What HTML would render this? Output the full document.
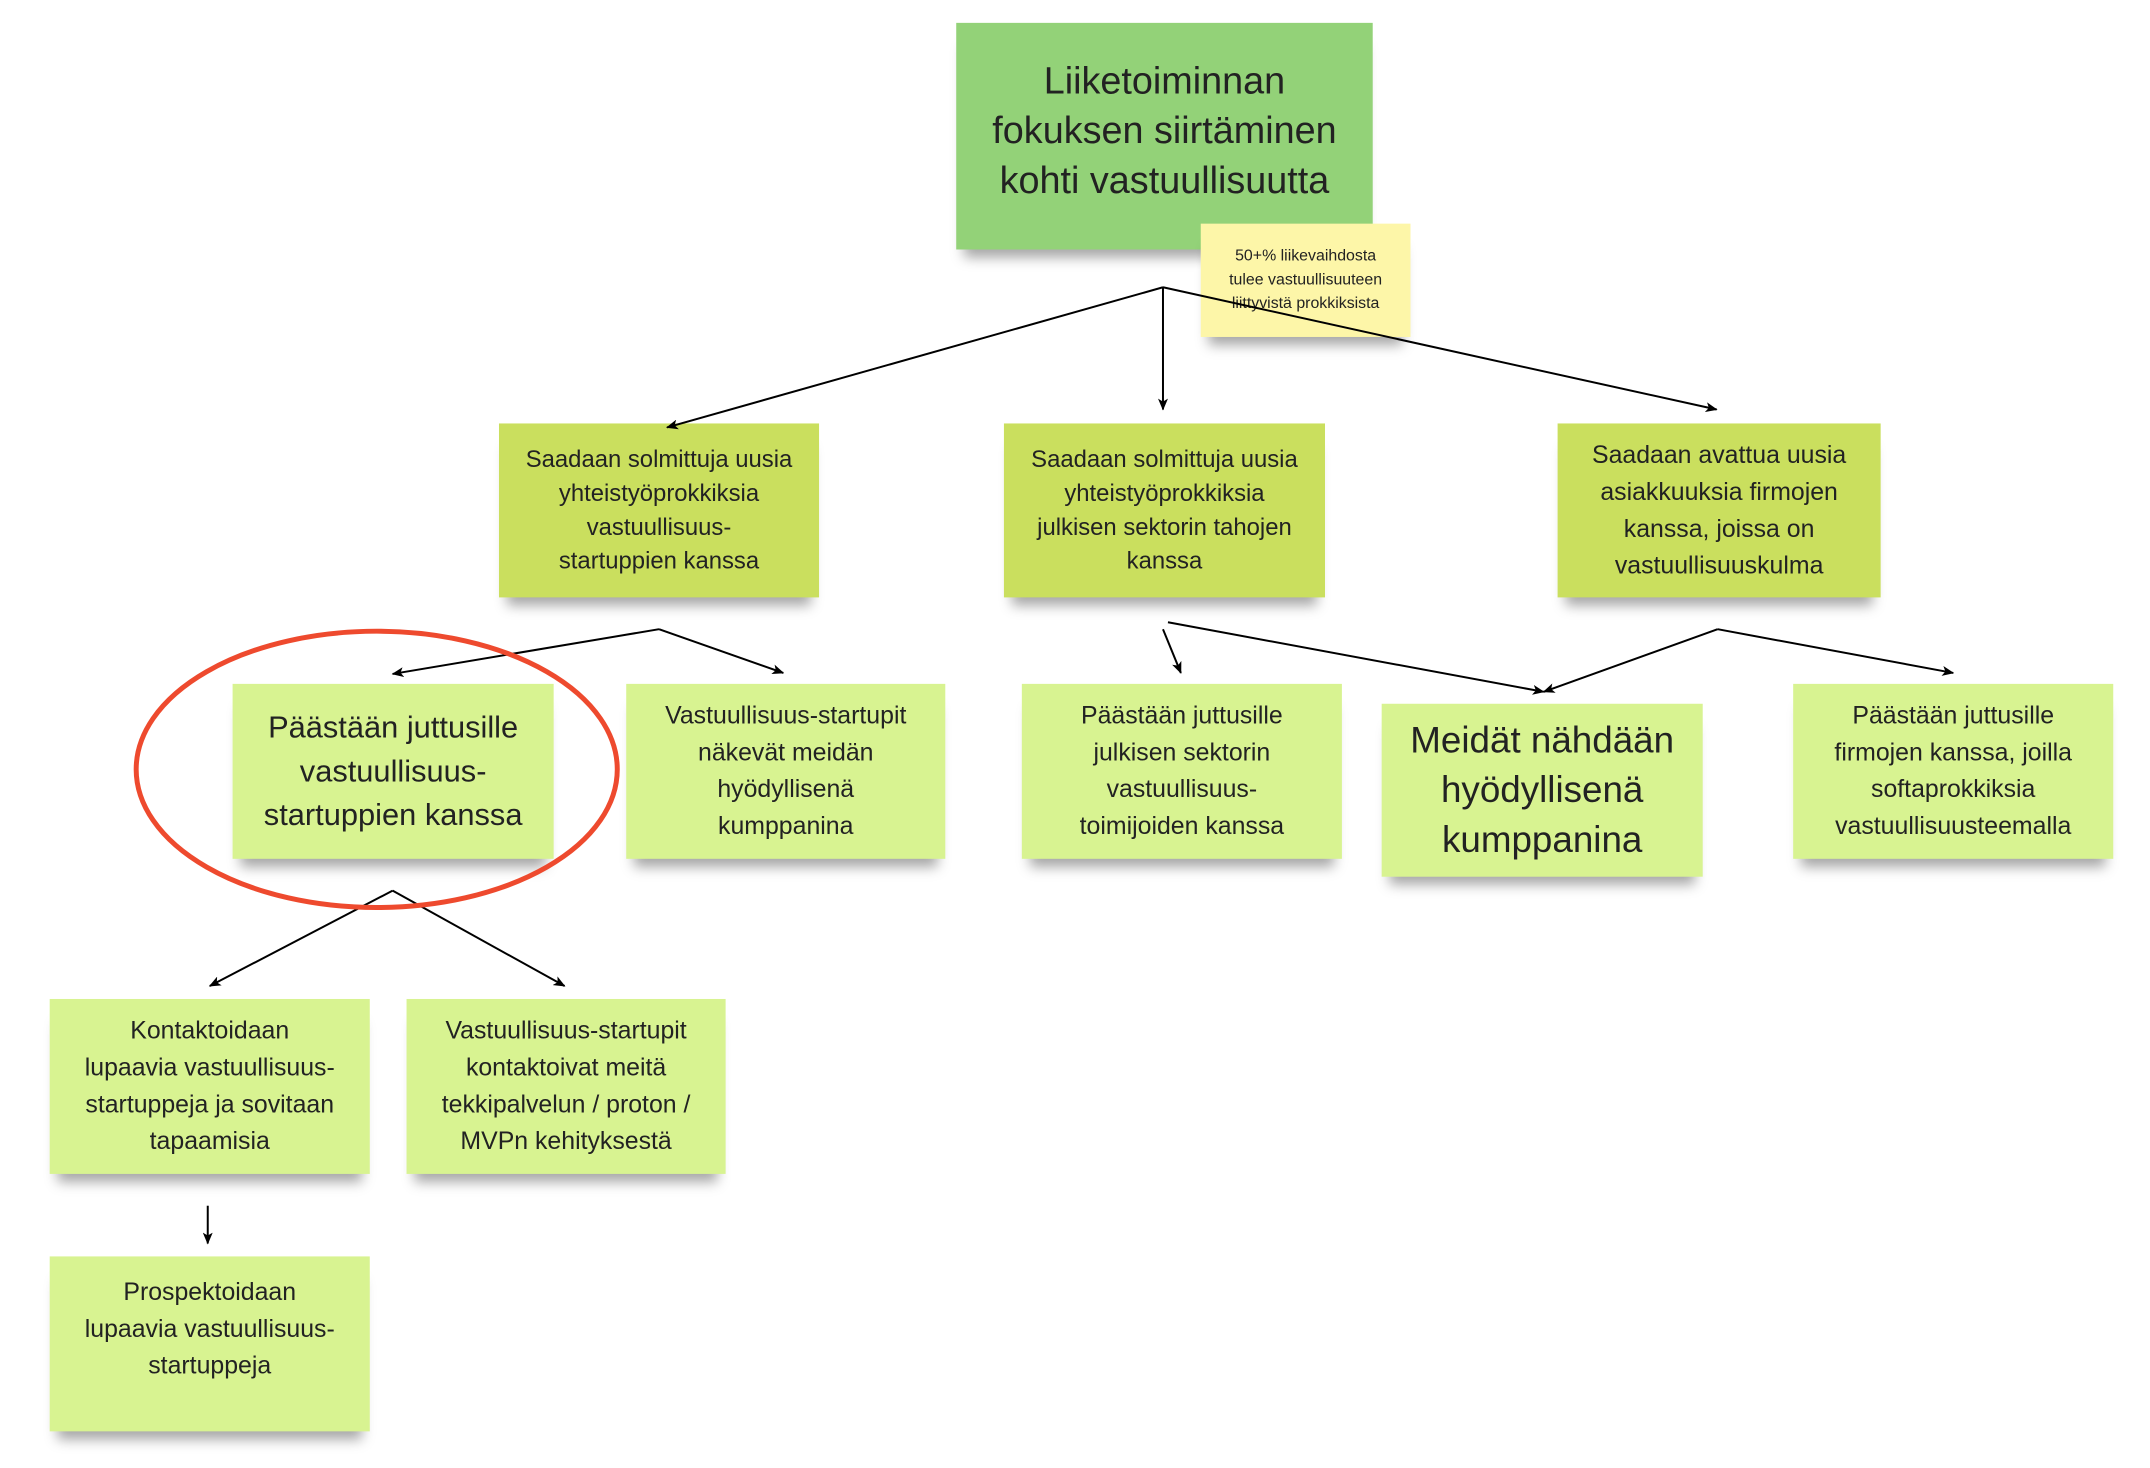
<!DOCTYPE html>
<html><head><meta charset="utf-8"><style>
body{margin:0;width:2150px;height:1468px;background:#fff;position:relative;overflow:hidden;font-family:"Liberation Sans",sans-serif;color:#222}
#w{position:absolute;left:0;top:0;width:2150px;height:1468px;transform:scale(0.994);transform-origin:0 0}
.n{position:absolute;display:flex;align-items:center;justify-content:center;text-align:center;box-sizing:border-box;padding:10px;box-shadow:0 16px 12px -8px rgba(0,0,0,.35)}
.l2{background:#cadf5e;font-size:24px;line-height:34px}
.l3{background:#d8f391;font-size:25px;line-height:37px}
svg{position:absolute;left:0;top:0}
</style></head><body><div id="w">
<div class="n" style="left:962px;top:23px;width:419px;height:228px;background:#93d278;font-size:38px;line-height:50px;padding-bottom:20px">Liiketoiminnan<br>fokuksen siirtäminen<br>kohti vastuullisuutta</div>
<div class="n" style="left:1208px;top:225px;width:211px;height:114px;background:#fdf6a8;font-size:16px;line-height:24px">50+% liikevaihdosta<br>tulee vastuullisuuteen<br>liittyvistä prokkiksista</div>
<div class="n l2" style="left:502px;top:426px;width:322px;height:175px">Saadaan solmittuja uusia<br>yhteistyöprokkiksia<br>vastuullisuus-<br>startuppien kanssa</div>
<div class="n l2" style="left:1010px;top:426px;width:323px;height:175px">Saadaan solmittuja uusia<br>yhteistyöprokkiksia<br>julkisen sektorin tahojen<br>kanssa</div>
<div class="n l2" style="left:1567px;top:426px;width:325px;height:175px;font-size:25px;line-height:37px">Saadaan avattua uusia<br>asiakkuuksia firmojen<br>kanssa, joissa on<br>vastuullisuuskulma</div>
<div class="n l3" style="left:234px;top:688px;width:323px;height:176px;font-size:31px;line-height:44px">Päästään juttusille<br>vastuullisuus-<br>startuppien kanssa</div>
<div class="n l3" style="left:630px;top:688px;width:321px;height:176px">Vastuullisuus-startupit<br>näkevät meidän<br>hyödyllisenä<br>kumppanina</div>
<div class="n l3" style="left:1028px;top:688px;width:322px;height:176px">Päästään juttusille<br>julkisen sektorin<br>vastuullisuus-<br>toimijoiden kanssa</div>
<div class="n l3" style="left:1390px;top:708px;width:323px;height:174px;font-size:37px;line-height:50px">Meidät nähdään<br>hyödyllisenä<br>kumppanina</div>
<div class="n l3" style="left:1804px;top:688px;width:322px;height:176px">Päästään juttusille<br>firmojen kanssa, joilla<br>softaprokkiksia<br>vastuullisuusteemalla</div>
<div class="n l3" style="left:50px;top:1005px;width:322px;height:176px">Kontaktoidaan<br>lupaavia vastuullisuus-<br>startuppeja ja sovitaan<br>tapaamisia</div>
<div class="n l3" style="left:409px;top:1005px;width:321px;height:176px">Vastuullisuus-startupit<br>kontaktoivat meitä<br>tekkipalvelun / proton /<br>MVPn kehityksestä</div>
<div class="n l3" style="left:50px;top:1264px;width:322px;height:176px;padding-bottom:40px">Prospektoidaan<br>lupaavia vastuullisuus-<br>startuppeja</div>
<svg width="2150" height="1468">
<defs><marker id="a" markerWidth="12" markerHeight="10" refX="11" refY="5" orient="auto" markerUnits="userSpaceOnUse"><path d="M0,0 L12,5 L0,10 L3,5 z" fill="#000"/></marker></defs>
<g stroke="#000" stroke-width="2" fill="none" marker-end="url(#a)">
<path d="M1170,289 L671,430"/><path d="M1170,289 L1170,412"/><path d="M1170,289 L1727,412"/>
<path d="M663,633 L395,678"/><path d="M663,633 L788,677"/>
<path d="M1170,633 L1188,677"/><path d="M1175,626 L1553,696"/>
<path d="M1728,633 L1553,696"/><path d="M1728,633 L1965,677"/>
<path d="M395,896 L211,992"/><path d="M395,896 L568,992"/>
<path d="M209,1213 L209,1251"/>
</g>
<ellipse cx="379" cy="774" rx="242" ry="139" fill="none" stroke="#ee4a2e" stroke-width="5"/>
</svg>
</div></body></html>
